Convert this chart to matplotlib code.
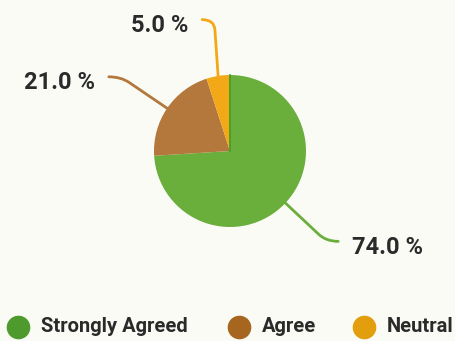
import matplotlib.pyplot as plt
import numpy as np
from matplotlib.path import Path
from matplotlib.patches import PathPatch

categories = ["Strongly Agreed", "Agree", "Neutral"]
shares = [74.0, 21.0, 5.0]
label_text = [f"{v:.1f} %" for v in shares]

wedge_colors = ["#6aae3c", "#b4773c", "#f2a817"]
legend_colors = ["#4f9a2c", "#a6661f", "#e39e0d"]

plt.rcParams['font.family'] = ['Roboto', 'DejaVu Sans']

W, H = 455, 341
fig = plt.figure(figsize=(W / 100, H / 100), dpi=100, facecolor="#fbfbf6")
ax = fig.add_axes([0, 0, 1, 1])

cx, cy, r = 230, H - 151, 76
wedges, _ = ax.pie(shares, colors=wedge_colors, startangle=90, counterclock=False,
                   center=(cx, cy), radius=r, frame=True,
                   wedgeprops=dict(linewidth=0))
ax.set_xlim(0, W)
ax.set_ylim(0, H)
ax.set_aspect('equal')
ax.axis('off')

# thin darker edge where the green slice starts
a0 = np.deg2rad(wedges[0].theta2)
ax.plot([cx, cx + r * np.cos(a0)], [cy, cy + r * np.sin(a0)], color="#3f9e22", lw=1.2)

# leader lines: out from the slice middle, then a rounded bend to horizontal
bend_r = [132, 132, 133]
bend_shift = [0, 0, 5]
for w, txt, col, br, sh in zip(wedges, label_text, wedge_colors, bend_r, bend_shift):
    ang = np.deg2rad((w.theta1 + w.theta2) / 2)
    ux, uy = np.cos(ang), np.sin(ang)
    side = 1 if ux > 0 else -1
    p0 = (cx + r * ux, cy + r * uy)
    pc = (cx + br * ux + sh, cy + br * uy)
    pa = (p0[0] + (pc[0] - p0[0]) * 0.82, p0[1] + (pc[1] - p0[1]) * 0.82)
    pe = (pc[0] + side * 12, pc[1])
    path = Path([p0, pa, pc, pe], [Path.MOVETO, Path.LINETO, Path.CURVE3, Path.CURVE3])
    ax.add_patch(PathPatch(path, fill=False, edgecolor=col, linewidth=2.0,
                           capstyle='round'))
    ax.text(pe[0] + side * 14, pe[1] - 6, txt, ha='left' if side > 0 else 'right',
            va='center', fontsize=17, fontweight='bold', color="#2a2a2a")

# legend row along the bottom
dot_x = [18, 239, 364]
leg_y = H - 327
for x, name, c in zip(dot_x, categories, legend_colors):
    ax.plot(x, leg_y, 'o', markersize=16, color=c, clip_on=False)
    ax.text(x + 23, leg_y, name, ha='left', va='center', fontsize=14.5,
            fontweight='bold', color="#2a2a2a")

fig.savefig("out.png", dpi=100, facecolor=fig.get_facecolor())
